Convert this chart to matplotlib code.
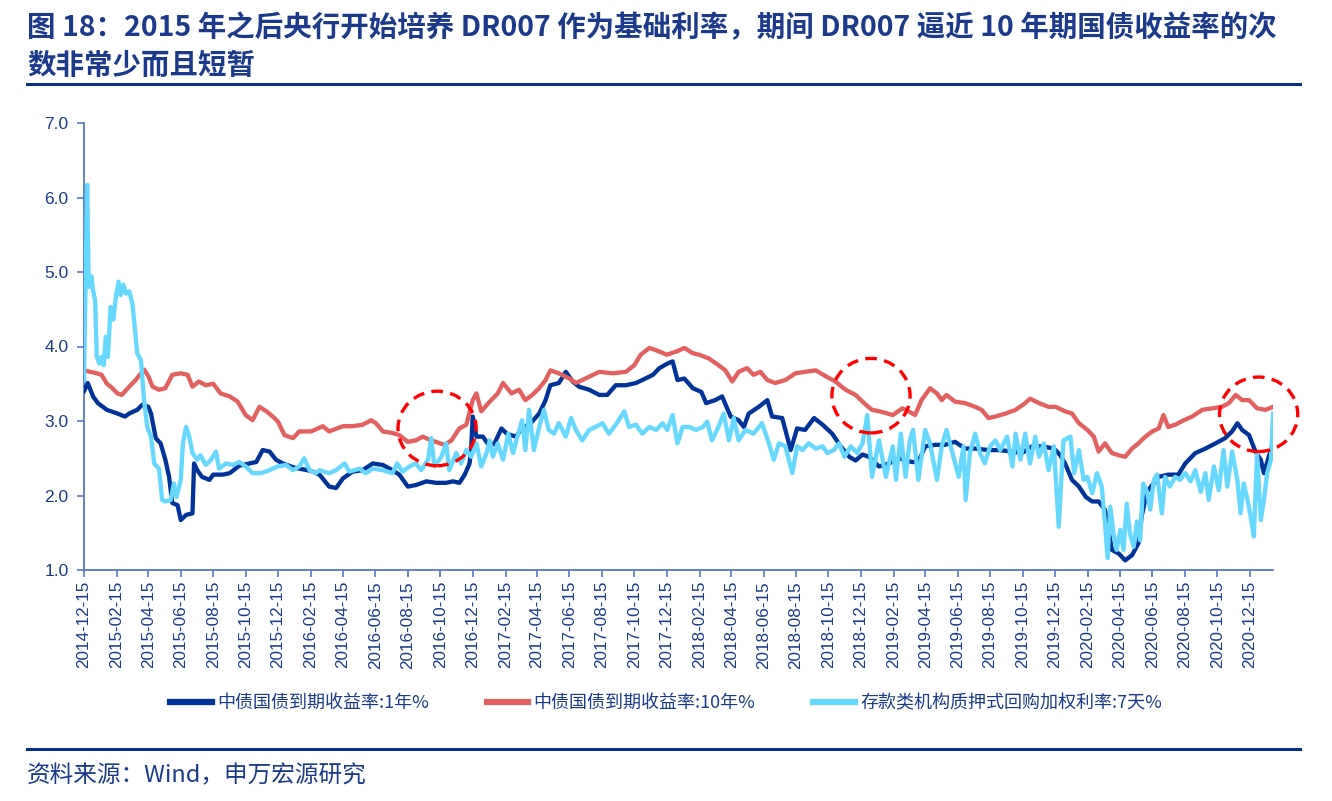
import matplotlib
matplotlib.use("Agg")
import matplotlib.pyplot as plt
import matplotlib.dates as mdates
from matplotlib.patches import Ellipse
from matplotlib.lines import Line2D
import pandas as pd

# ---------------- data ----------------
labels = ["中债国债到期收益率:1年%", "中债国债到期收益率:10年%", "存款类机构质押式回购加权利率:7天%"]

dates_1y = ["2014-12-15","2014-12-22","2015-01-01","2015-01-10","2015-01-27","2015-02-16","2015-03-02",
    "2015-03-10","2015-03-25","2015-04-04","2015-04-15","2015-04-20","2015-04-29","2015-05-08","2015-05-17",
    "2015-05-24","2015-05-30","2015-06-09","2015-06-15","2015-06-25","2015-07-07","2015-07-10","2015-07-16",
    "2015-07-25","2015-08-08","2015-08-15","2015-09-02","2015-09-15","2015-10-03","2015-10-22","2015-11-04",
    "2015-11-16","2015-11-29","2015-12-11","2015-12-24","2016-01-12","2016-01-24","2016-02-15","2016-03-02",
    "2016-03-20","2016-04-02","2016-04-15","2016-05-03","2016-05-22","2016-06-10","2016-06-29","2016-07-17",
    "2016-07-30","2016-08-15","2016-08-30","2016-09-19","2016-10-07","2016-10-26","2016-11-08","2016-11-20",
    "2016-11-30","2016-12-09","2016-12-12","2016-12-15","2016-12-22","2017-01-03","2017-01-16","2017-01-25",
    "2017-02-07","2017-02-17","2017-03-06","2017-03-18","2017-04-03","2017-04-19","2017-05-01","2017-05-10",
    "2017-05-26","2017-06-08","2017-06-21","2017-07-03","2017-07-22","2017-08-10","2017-08-25","2017-09-10",
    "2017-09-29","2017-10-18","2017-10-30","2017-11-19","2017-12-01","2017-12-16","2017-12-26","2018-01-04",
    "2018-01-17","2018-02-02","2018-02-18","2018-02-27","2018-03-16","2018-03-29","2018-04-14","2018-04-29",
    "2018-05-09","2018-05-18","2018-06-06","2018-06-22","2018-07-01","2018-07-20","2018-08-05","2018-08-17",
    "2018-09-01","2018-09-18","2018-10-04","2018-10-22","2018-11-07","2018-11-23","2018-12-05","2018-12-18",
    "2018-12-30","2019-01-18","2019-02-06","2019-02-24","2019-03-21","2019-04-02","2019-04-15","2019-05-04",
    "2019-05-22","2019-06-10","2019-06-29","2019-07-18","2019-08-12","2019-08-31","2019-09-26","2019-10-14",
    "2019-11-02","2019-11-21","2019-12-13","2019-12-25","2020-01-03","2020-01-16","2020-01-29","2020-02-11",
    "2020-02-23","2020-03-06","2020-03-18","2020-03-31","2020-04-13","2020-04-25","2020-05-08","2020-05-20",
    "2020-05-26","2020-06-05","2020-06-15","2020-06-27","2020-07-15","2020-08-03","2020-08-16","2020-09-04",
    "2020-09-23","2020-10-12","2020-10-30","2020-11-12","2020-11-22","2020-12-01","2020-12-14","2020-12-26",
    "2021-01-05","2021-01-11","2021-01-20","2021-01-28"]
yield_1y = [3.40,3.51,3.33,3.24,3.15,3.10,3.06,
    3.10,3.15,3.22,3.19,3.10,2.77,2.70,2.48,
    2.25,1.90,1.87,1.67,1.74,1.76,2.43,2.34,
    2.25,2.21,2.28,2.28,2.30,2.40,2.43,2.45,
    2.61,2.59,2.48,2.43,2.38,2.36,2.33,2.28,
    2.12,2.10,2.23,2.32,2.34,2.43,2.41,2.34,
    2.28,2.12,2.14,2.19,2.17,2.17,2.19,2.17,
    2.28,2.43,2.61,3.06,2.79,2.79,2.66,2.70,
    2.90,2.83,2.79,2.90,2.97,3.10,3.28,3.48,
    3.51,3.66,3.53,3.46,3.42,3.35,3.35,3.48,
    3.48,3.51,3.55,3.62,3.71,3.77,3.80,3.55,
    3.57,3.44,3.39,3.24,3.28,3.33,3.06,3.01,
    2.92,3.10,3.19,3.28,3.06,3.04,2.61,2.90,
    2.88,3.04,2.95,2.83,2.66,2.52,2.47,2.55,
    2.52,2.39,2.43,2.50,2.45,2.45,2.66,2.68,
    2.68,2.72,2.63,2.63,2.61,2.61,2.59,2.57,
    2.66,2.66,2.63,2.54,2.43,2.21,2.12,1.98,
    1.92,1.92,1.81,1.27,1.22,1.13,1.20,1.36,
    1.72,2.05,2.14,2.25,2.28,2.28,2.43,2.57,
    2.63,2.70,2.77,2.86,2.97,2.88,2.81,2.59,
    2.48,2.30,2.52,2.70]

dates_10y = ["2014-12-15","2015-01-08","2015-01-17","2015-01-27","2015-02-05","2015-02-16","2015-02-24",
    "2015-03-10","2015-03-22","2015-04-07","2015-04-15","2015-04-23","2015-05-05","2015-05-17","2015-05-30",
    "2015-06-15","2015-06-28","2015-07-07","2015-07-19","2015-08-01","2015-08-15","2015-08-29","2015-09-15",
    "2015-09-30","2015-10-15","2015-10-28","2015-11-10","2015-11-23","2015-12-05","2015-12-15","2015-12-27",
    "2016-01-12","2016-01-24","2016-02-15","2016-03-08","2016-03-20","2016-04-15","2016-05-03","2016-05-22",
    "2016-06-07","2016-06-16","2016-06-29","2016-07-17","2016-07-30","2016-08-15","2016-08-30","2016-09-12",
    "2016-09-28","2016-10-15","2016-10-23","2016-11-05","2016-11-20","2016-12-03","2016-12-15","2016-12-22",
    "2016-12-31","2017-01-16","2017-01-31","2017-02-10","2017-02-26","2017-03-12","2017-03-24","2017-04-06",
    "2017-04-19","2017-05-01","2017-05-10","2017-05-26","2017-06-15","2017-06-27","2017-07-15","2017-08-10",
    "2017-09-04","2017-09-29","2017-10-15","2017-10-27","2017-11-12","2017-11-25","2017-12-15","2018-01-01",
    "2018-01-17","2018-02-02","2018-02-14","2018-03-04","2018-03-22","2018-04-04","2018-04-17","2018-04-29",
    "2018-05-15","2018-05-27","2018-06-09","2018-06-22","2018-07-07","2018-07-26","2018-08-14","2018-09-01",
    "2018-09-21","2018-10-10","2018-10-28","2018-11-16","2018-12-05","2018-12-24","2019-01-05","2019-01-19",
    "2019-02-13","2019-03-03","2019-03-15","2019-03-27","2019-04-08","2019-04-24","2019-05-07","2019-05-16",
    "2019-05-25","2019-06-10","2019-06-29","2019-07-18","2019-07-30","2019-08-12","2019-08-25","2019-09-13",
    "2019-10-02","2019-10-20","2019-10-29","2019-11-15","2019-12-03","2019-12-16","2020-01-03","2020-01-16",
    "2020-01-29","2020-02-14","2020-02-26","2020-03-06","2020-03-18","2020-03-31","2020-04-13","2020-04-25",
    "2020-05-08","2020-05-20","2020-06-02","2020-06-15","2020-06-27","2020-07-06","2020-07-15","2020-07-28",
    "2020-08-13","2020-08-29","2020-09-17","2020-10-06","2020-10-24","2020-11-06","2020-11-19","2020-12-01",
    "2020-12-14","2020-12-29","2021-01-14","2021-01-28"]
yield_10y = [3.68,3.64,3.62,3.50,3.45,3.37,3.35,
    3.46,3.55,3.69,3.60,3.46,3.42,3.44,3.62,
    3.64,3.62,3.46,3.53,3.48,3.50,3.37,3.33,
    3.26,3.08,3.01,3.19,3.13,3.06,2.99,2.81,
    2.77,2.86,2.86,2.93,2.86,2.93,2.93,2.95,
    3.01,2.97,2.86,2.84,2.81,2.72,2.74,2.79,
    2.74,2.70,2.68,2.74,2.90,2.95,3.28,3.37,
    3.13,3.26,3.37,3.51,3.37,3.42,3.28,3.35,
    3.44,3.55,3.68,3.64,3.57,3.51,3.57,3.66,
    3.64,3.66,3.75,3.89,3.98,3.95,3.89,3.93,
    3.98,3.91,3.89,3.84,3.75,3.68,3.53,3.66,
    3.71,3.62,3.66,3.55,3.51,3.55,3.64,3.66,
    3.68,3.60,3.53,3.42,3.35,3.22,3.15,3.13,
    3.08,3.17,3.13,3.08,3.28,3.44,3.37,3.28,
    3.35,3.26,3.24,3.19,3.15,3.04,3.06,3.10,
    3.15,3.24,3.30,3.24,3.19,3.19,3.13,3.10,
    2.97,2.88,2.79,2.59,2.70,2.57,2.54,2.52,
    2.63,2.70,2.79,2.86,2.90,3.08,2.92,2.95,
    3.01,3.06,3.15,3.17,3.19,3.24,3.35,3.28,
    3.28,3.17,3.15,3.19]

dates_dr = ["2014-12-15","2014-12-21","2014-12-24","2014-12-29","2015-01-01","2015-01-05","2015-01-08",
    "2015-01-13","2015-01-17","2015-01-21","2015-01-25","2015-01-29","2015-02-03","2015-02-08","2015-02-13",
    "2015-02-18","2015-02-22","2015-02-27","2015-03-04","2015-03-10","2015-03-16","2015-03-21","2015-03-25",
    "2015-04-01","2015-04-07","2015-04-13","2015-04-20","2015-04-26","2015-05-05","2015-05-11","2015-05-17",
    "2015-05-27","2015-06-02","2015-06-07","2015-06-15","2015-06-19","2015-06-25","2015-07-01","2015-07-07",
    "2015-07-16","2015-07-22","2015-08-01","2015-08-11","2015-08-20","2015-08-26","2015-09-08","2015-09-21",
    "2015-10-03","2015-10-15","2015-10-28","2015-11-13","2015-11-29","2015-12-14","2015-12-30","2016-01-12",
    "2016-01-24","2016-02-02","2016-02-12","2016-02-24","2016-03-02","2016-03-20","2016-04-02","2016-04-18",
    "2016-04-27","2016-05-16","2016-05-28","2016-06-10","2016-06-29","2016-07-17","2016-07-26","2016-08-05",
    "2016-08-18","2016-08-30","2016-09-09","2016-09-22","2016-09-28","2016-10-04","2016-10-17","2016-10-26",
    "2016-11-01","2016-11-14","2016-11-23","2016-12-03","2016-12-12","2016-12-22","2016-12-31","2017-01-10",
    "2017-01-16","2017-01-22","2017-01-31","2017-02-10","2017-02-20","2017-03-01","2017-03-09","2017-03-18",
    "2017-03-24","2017-03-31","2017-04-09","2017-04-19","2017-04-28","2017-05-07","2017-05-17","2017-05-26",
    "2017-06-08","2017-06-18","2017-06-27","2017-07-09","2017-07-22","2017-08-03","2017-08-16","2017-08-28",
    "2017-09-10","2017-09-26","2017-10-05","2017-10-18","2017-10-30","2017-11-12","2017-11-25","2017-12-07",
    "2017-12-16","2017-12-26","2018-01-04","2018-01-14","2018-01-26","2018-02-08","2018-02-21","2018-03-01",
    "2018-03-10","2018-03-22","2018-04-01","2018-04-11","2018-04-20","2018-04-29","2018-05-12","2018-05-27",
    "2018-06-12","2018-06-25","2018-07-04","2018-07-14","2018-07-26","2018-08-08","2018-08-17","2018-08-27",
    "2018-09-08","2018-09-21","2018-10-04","2018-10-13","2018-10-25","2018-11-04","2018-11-14","2018-11-26",
    "2018-12-08","2018-12-18","2018-12-27","2019-01-05","2019-01-18","2019-01-31","2019-02-13","2019-02-19",
    "2019-02-28","2019-03-09","2019-03-17","2019-03-23","2019-04-02","2019-04-15","2019-04-24","2019-05-07",
    "2019-05-16","2019-05-25","2019-06-07","2019-06-17","2019-06-26","2019-06-30","2019-07-08","2019-07-18",
    "2019-07-27","2019-08-05","2019-08-15","2019-08-25","2019-09-03","2019-09-16","2019-09-26","2019-10-02",
    "2019-10-11","2019-10-20","2019-10-29","2019-11-08","2019-11-15","2019-11-24","2019-12-03","2019-12-13",
    "2019-12-22","2019-12-31","2020-01-13","2020-01-20","2020-01-29","2020-02-07","2020-02-14","2020-02-23",
    "2020-03-03","2020-03-12","2020-03-18","2020-03-23","2020-03-28","2020-04-03","2020-04-09","2020-04-16",
    "2020-04-22","2020-04-28","2020-05-04","2020-05-11","2020-05-17","2020-05-23","2020-05-29","2020-06-05",
    "2020-06-11","2020-06-18","2020-06-24","2020-07-03","2020-07-09","2020-07-18","2020-07-28","2020-08-06",
    "2020-08-16","2020-08-26","2020-09-04","2020-09-14","2020-09-23","2020-09-29","2020-10-09","2020-10-18",
    "2020-10-27","2020-11-03","2020-11-12","2020-11-22","2020-11-28","2020-12-04","2020-12-11","2020-12-17",
    "2020-12-23","2020-12-29","2021-01-05","2021-01-11","2021-01-17","2021-01-24","2021-01-28"]
rate_dr007 = [3.55,6.17,4.80,4.94,4.75,4.62,3.86,
    3.77,3.86,3.75,4.13,3.86,4.53,4.36,4.67,
    4.87,4.69,4.83,4.71,4.74,4.58,4.22,3.91,
    3.82,3.28,2.92,2.79,2.43,2.36,1.94,1.92,
    1.94,2.16,1.98,2.21,2.70,2.92,2.79,2.57,
    2.48,2.54,2.41,2.48,2.59,2.36,2.43,2.41,
    2.45,2.39,2.30,2.30,2.34,2.39,2.41,2.34,
    2.39,2.50,2.34,2.30,2.34,2.30,2.34,2.43,
    2.32,2.36,2.30,2.36,2.34,2.30,2.43,2.32,
    2.39,2.43,2.34,2.48,2.77,2.39,2.52,2.70,
    2.34,2.57,2.43,2.61,2.52,2.70,2.39,2.57,
    2.74,2.52,2.70,2.48,2.83,2.57,2.79,3.01,
    2.61,3.15,2.61,2.92,3.15,2.88,2.83,2.97,
    2.79,3.04,2.88,2.74,2.88,2.92,2.97,2.83,
    2.95,3.13,2.92,2.95,2.83,2.92,2.88,2.97,
    2.88,3.08,2.70,2.92,2.92,2.88,2.92,2.99,
    2.74,2.92,3.10,2.74,3.04,2.74,2.88,2.83,
    2.97,2.70,2.48,2.70,2.66,2.30,2.66,2.61,
    2.70,2.63,2.66,2.57,2.61,2.70,2.52,2.66,
    2.57,2.70,3.08,2.25,2.74,2.25,2.66,2.21,
    2.83,2.25,2.74,2.88,2.21,2.88,2.70,2.21,
    2.66,2.88,2.52,2.25,2.66,1.94,2.57,2.83,
    2.57,2.43,2.66,2.74,2.61,2.79,2.39,2.83,
    2.48,2.83,2.43,2.79,2.52,2.70,2.34,2.66,
    1.58,2.74,2.79,2.30,2.61,2.21,2.25,2.03,
    2.30,2.12,1.63,1.16,1.85,1.49,1.27,1.54,
    1.27,1.89,1.49,1.31,1.65,1.40,2.16,2.05,
    1.81,2.21,2.28,1.76,2.25,2.12,2.25,2.21,
    2.30,2.19,2.34,2.05,2.30,1.94,2.39,2.07,
    2.61,2.12,2.59,2.21,1.76,2.16,1.94,1.72,
    1.45,2.57,1.67,1.94,2.30,2.48,3.10]

# highlighted periods (centre date, centre value)
circle_dates = ["2016-10-09", "2019-01-03", "2021-01-01"]
circle_values = [2.90, 3.34, 3.09]

# ---------------- styling ----------------
C_1Y = "#003399"
C_10Y = "#E2605E"
C_DR = "#66D8FF"
C_TEXT = "#1B3A8C"
C_AXIS = "#5577CC"
CJK = ["Noto Sans CJK SC", "DejaVu Sans"]
LAT = ["Liberation Sans", "DejaVu Sans"]

W, H = 1332, 801
fig = plt.figure(figsize=(W / 100, H / 100), dpi=100)
fig.patch.set_facecolor("white")

def fx(px):
    return px / W

def fy(py):
    return 1 - py / H

ax = fig.add_axes([fx(84), fy(570), fx(1273) - fx(84), fy(123) - fy(570)])

d1 = pd.to_datetime(dates_1y)
d10 = pd.to_datetime(dates_10y)
ddr = pd.to_datetime(dates_dr)

lw = 3.1
ax.plot(d1, yield_1y, color=C_1Y, lw=lw, solid_joinstyle="round", zorder=3)
ax.plot(d10, yield_10y, color=C_10Y, lw=lw, solid_joinstyle="round", zorder=3)
ax.plot(ddr, rate_dr007, color=C_DR, lw=lw, solid_joinstyle="round", zorder=3)

ax.set_xlim(pd.Timestamp("2014-12-15"), pd.Timestamp("2021-01-28"))
ax.set_ylim(1.0, 7.0)
ax.set_yticks([1, 2, 3, 4, 5, 6, 7])
ax.yaxis.set_major_formatter(matplotlib.ticker.FormatStrFormatter("%.1f"))
ax.xaxis.set_major_locator(mdates.MonthLocator(bymonth=[2, 4, 6, 8, 10, 12], bymonthday=15))
ax.xaxis.set_major_formatter(mdates.DateFormatter("%Y-%m-%d"))

for s in ["top", "right"]:
    ax.spines[s].set_visible(False)
for s in ["left", "bottom"]:
    ax.spines[s].set_color(C_AXIS)
    ax.spines[s].set_linewidth(1.3)
ax.tick_params(axis="both", colors=C_AXIS, length=5, width=1.2, direction="out")
ax.tick_params(axis="x", pad=3)
ax.tick_params(axis="y", pad=6)
for lab in ax.get_xticklabels():
    lab.set_rotation(90)
    lab.set_fontfamily(LAT)
    lab.set_fontsize(12.3)
    lab.set_color(C_TEXT)
for lab in ax.get_yticklabels():
    lab.set_fontfamily(LAT)
    lab.set_fontsize(12.5)
    lab.set_color(C_TEXT)

# dashed red circles
for cd, cv in zip(circle_dates, circle_values):
    e = Ellipse((mdates.date2num(pd.Timestamp(cd)), cv), width=147, height=1.0,
                fill=False, edgecolor="#FF0000", lw=2.4, linestyle=(0, (3.5, 2.2)),
                zorder=5, clip_on=False)
    ax.add_patch(e)

# title
fig.text(fx(27), fy(28), "图 18：2015 年之后央行开始培养 DR007 作为基础利率，期间 DR007 逼近 10 年期国债收益率的次",
         family=CJK, fontsize=20.5, fontweight="bold", color=C_TEXT, va="center", ha="left")
fig.text(fx(27), fy(66), "数非常少而且短暂",
         family=CJK, fontsize=20.5, fontweight="bold", color=C_TEXT, va="center", ha="left")
fig.add_artist(Line2D([fx(27), fx(1300)], [fy(84), fy(84)], color="#0A2E8C", lw=2.2))

# legend
handles = [Line2D([], [], color=C_1Y, lw=4.5), Line2D([], [], color=C_10Y, lw=4.5),
           Line2D([], [], color=C_DR, lw=4.5)]
leg = fig.legend(handles, labels, loc="center", bbox_to_anchor=(fx(666), fy(703)), ncol=3,
                 frameon=False, prop={"family": CJK, "size": 13}, handlelength=2.3,
                 handletextpad=0.3, columnspacing=3.2)
for t in leg.get_texts():
    t.set_color(C_TEXT)

# source
fig.add_artist(Line2D([fx(27), fx(1300)], [fy(749), fy(749)], color="#0A2E8C", lw=2.2))
fig.text(fx(27), fy(776), "资料来源：Wind，申万宏源研究", family=CJK, fontsize=17,
         color=C_TEXT, va="center", ha="left")

fig.savefig("out.png", dpi=100, facecolor="white")
